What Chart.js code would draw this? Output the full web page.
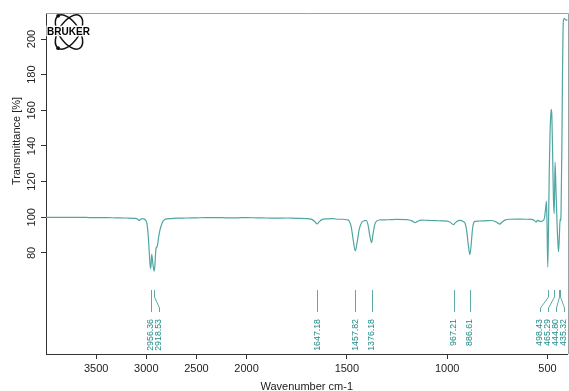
<!DOCTYPE html>
<html><head><meta charset="utf-8">
<script src="https://cdn.jsdelivr.net/npm/chart.js@4.4.1/dist/chart.umd.min.js"></script>
<style>html,body{margin:0;padding:0;background:#fff;overflow:hidden}#wrap{width:569px;height:391px}</style>
</head><body><div id="wrap"><canvas id="c" width="569" height="391"></canvas></div>
<script>
const wavenumbers = [4000,3900,3800,3700,3600,3500,3400,3300,3200,3120,3085,3072,3060,3040,3020,3005,2995,2985,2975,2966,2958,2952,2946,2940,2930,2921,2914,2908,2902,2895,2888,2878,2865,2850,2835,2820,2800,2750,2700,2600,2500,2400,2300,2200,2100,2000,1950,1900,1850,1800,1750,1700,1675,1660,1648,1638,1625,1600,1570,1540,1520,1500,1488,1478,1468,1458,1448,1438,1425,1412,1403,1394,1386,1377,1369,1362,1352,1335,1300,1250,1200,1175,1160,1148,1130,1100,1060,1030,1000,985,968,958,945,935,920,910,902,895,887,880,874,868,860,840,810,780,765,750,738,727,712,690,650,610,580,565,557,550,542,533,525,515,509,505,502,498.4,495,491,487,484,481,478,474,470,466,462,458,452,447,444.8,441,437,435.3,432,428,425,422,419,415,410,405,400];
const transmittance = [100.0,100.0,99.9,100.0,99.9,99.8,99.8,99.7,99.6,99.4,98.9,98.1,98.7,99.3,99.0,98.2,96.8,92.5,85,76,71.2,73.5,79.2,77,72,69.8,73,79,82.8,83.2,84.5,88.5,92.5,95.5,97.6,98.6,99.1,99.3,99.5,99.6,99.7,99.8,99.8,99.7,99.7,99.8,99.7,99.6,99.5,99.6,99.4,99.3,98.8,97.6,96.3,97.4,98.7,99.1,99.2,98.9,98.9,98.6,97.8,94.5,87,81.2,86.5,93.5,97.2,98.1,98.2,95.5,90,85.8,91,95.5,97.8,98.5,98.6,98.8,98.7,98.0,97.0,97.7,98.4,98.3,98.1,98.0,97.8,97.2,95.9,97.0,98.1,98.3,97.6,96.5,92,85,79.0,85,93,96.8,97.7,97.9,98.0,98.2,97.9,97.0,96.2,97.2,98.4,98.9,99.0,98.9,98.8,98.2,97.3,98.3,98.0,97.6,97.9,99.5,105,109,96,72,92,125,148,156,160.5,157,135,110,102,131,118,96,84,80.7,88,99,98,104,140,180,206,211,211.5,211,210.5,211];
const peakWavenumbers = [2956.36,2918.53,1647.18,1457.82,1376.18,967.21,886.61,498.43,465.29,444.80,435.32];
const peakLabels = ["2956.36","2918.53","1647.18","1457.82","1376.18","967.21","886.61","498.43","465.29","444.80","435.32"];
const xTickValues = [3500,3000,2500,2000,1500,1000,500];
const yTickValues = [80,100,120,140,160,180,200];

// OPUS-style axis: region above 2000 cm-1 compressed by factor 2
const toAxis = wn => wn <= 2000 ? wn : 2000 + (wn - 2000) / 2;
const fromAxis = v => v <= 2000 ? v : 2000 + (v - 2000) * 2;

const FONT = '"Liberation Sans", Arial, sans-serif';
const points = wavenumbers.map((w, i) => ({x: toAxis(w), y: transmittance[i]}));

const decor = {
  id: 'decor',
  afterDraw(chart) {
    const {ctx, chartArea: a, scales: {x, y}} = chart;
    ctx.save();
    // top/right frame
    ctx.strokeStyle = '#a0a0a0'; ctx.lineWidth = 1;
    ctx.beginPath();
    ctx.moveTo(a.left, a.top + 0.5); ctx.lineTo(Math.round(a.right) + 0.5, a.top + 0.5);
    ctx.lineTo(Math.round(a.right) + 0.5, a.bottom);
    ctx.stroke();
    // y tick labels (vertical)
    ctx.fillStyle = '#222'; ctx.font = '11px ' + FONT;
    ctx.textAlign = 'center'; ctx.textBaseline = 'middle';
    yTickValues.forEach(v => {
      const py = y.getPixelForValue(v);
      ctx.save(); ctx.translate(a.left - 14, py); ctx.rotate(-Math.PI / 2);
      ctx.fillText(String(v), 0, 0); ctx.restore();
    });
    // y title
    ctx.save(); ctx.translate(17, 141); ctx.rotate(-Math.PI / 2);
    ctx.fillText('Transmittance [%]', 0, 0); ctx.restore();

    // peak markers
    const px = peakWavenumbers.map(w => x.getPixelForValue(toAxis(w)));
    const order = px.map((p, i) => i).sort((i, j) => px[i] - px[j]);
    const gap = 7.9, lim = a.right - 4;
    const lx = {};
    let prev = -1e9;
    order.forEach(i => { lx[i] = Math.max(px[i], prev + gap); prev = lx[i]; });
    let nxt = lim + gap;
    [...order].reverse().forEach(i => { lx[i] = Math.min(lx[i], nxt - gap); nxt = lx[i]; });
    const yTop = a.bottom - 64, yB1 = a.bottom - 57, yB2 = a.bottom - 46, yBot = a.bottom - 42, yTxt = a.bottom - 35;
    ctx.strokeStyle = '#5ea9a5'; ctx.lineWidth = 1;
    ctx.fillStyle = '#1f8a86'; ctx.font = '8.8px ' + FONT;
    ctx.textAlign = 'right'; ctx.textBaseline = 'middle';
    peakWavenumbers.forEach((w, i) => {
      const p = Math.round(px[i]) + 0.5, l = Math.round(lx[i]) + 0.5;
      ctx.beginPath(); ctx.moveTo(p, yTop);
      if (Math.abs(p - l) > 0.6) { ctx.lineTo(p, yB1); ctx.lineTo(l, yB2); }
      ctx.lineTo(l, yBot); ctx.stroke();
      ctx.save(); ctx.translate(lx[i], yTxt); ctx.rotate(-Math.PI / 2);
      ctx.fillText(peakLabels[i], 0, 0); ctx.restore();
    });

    // Bruker logo
    const cx = 69, cy = 32, R = 19.5, r = 10, ang = 0.98;
    ctx.strokeStyle = '#111'; ctx.lineWidth = 1.5; ctx.fillStyle = '#111';
    [ang, -ang].forEach(t => {
      ctx.beginPath(); ctx.ellipse(cx, cy, R, r, t, 0, Math.PI * 2); ctx.stroke();
    });
    const dx = R * Math.cos(ang), dy = R * Math.sin(ang);
    [[cx - dx, cy - dy], [cx - dx, cy + dy]].forEach(([ex, ey]) => {
      ctx.beginPath(); ctx.arc(ex, ey, 1.9, 0, Math.PI * 2); ctx.fill();
    });
    ctx.font = 'bold 10px ' + FONT; ctx.textAlign = 'center'; ctx.textBaseline = 'middle';
    ctx.strokeStyle = '#fff'; ctx.lineWidth = 2.5;
    ctx.strokeText('BRUKER', 68.5, cy + 0.5);
    ctx.fillStyle = '#000'; ctx.fillText('BRUKER', 68.5, cy + 0.5);
    ctx.restore();
  }
};

new Chart(document.getElementById('c'), {
  type: 'line',
  data: { datasets: [{
    data: points, borderColor: '#4fa6a2', borderWidth: 1.2, pointRadius: 0,
    cubicInterpolationMode: 'monotone', fill: false
  }]},
  options: {
    responsive: false, animation: false, devicePixelRatio: 1,
    layout: { padding: { top: 13, right: 1.5, left: 0, bottom: 0 } },
    plugins: { legend: { display: false }, tooltip: { enabled: false } },
    scales: {
      x: {
        type: 'linear', reverse: true, min: toAxis(400), max: toAxis(4000),
        afterBuildTicks: s => { s.ticks = xTickValues.map(v => ({ value: toAxis(v) })); },
        afterFit: s => { s.height = 37; },
        ticks: { callback: v => String(fromAxis(v)), color: '#222', font: { family: FONT, size: 11 }, padding: 3, maxRotation: 0, autoSkip: false },
        grid: { drawOnChartArea: false, drawTicks: true, tickLength: 5, color: '#333' },
        border: { color: '#333', width: 1 },
        title: { display: true, text: 'Wavenumber cm-1', color: '#222', font: { family: FONT, size: 11, lineHeight: 1 }, padding: { top: 0, bottom: -1 } }
      },
      y: {
        type: 'linear', min: 23.3, max: 214.6,
        afterBuildTicks: s => { s.ticks = yTickValues.map(v => ({ value: v })); },
        afterFit: s => { s.width = 46; },
        ticks: { display: false },
        grid: { drawOnChartArea: false, drawTicks: true, tickLength: 5, color: '#333' },
        border: { color: '#333', width: 1 }
      }
    }
  },
  plugins: [decor]
});
</script></body></html>
